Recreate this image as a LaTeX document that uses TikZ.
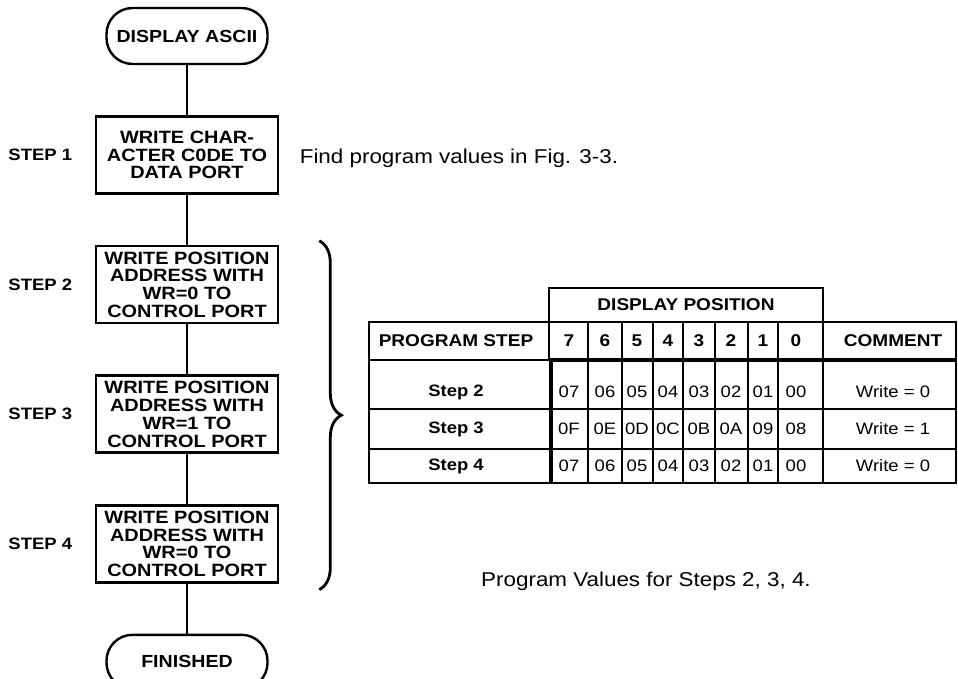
\documentclass[tikz,border=0pt]{standalone}
\usepackage{fontspec}
\setmainfont{Liberation Sans}[FakeStretch=1.12]
\usetikzlibrary{positioning, decorations.pathreplacing}

\begin{document}
\begin{tikzpicture}[
  x=1pt, y=-1pt,
  node distance=50pt,
  term/.style={draw, line width=2.4pt, rounded corners=26pt, minimum width=161pt,
               minimum height=56pt, inner sep=0pt,
               font=\bfseries\fontsize{17.5}{17.5}\selectfont},
  stepbox/.style={draw, line width=2.6pt, align=center, minimum width=182pt,
                  minimum height=77pt, inner sep=0pt,
                  font=\bfseries\fontsize{17.8}{17.8}\selectfont},
  lbl/.style={font=\bfseries\fontsize{16.5}{16.5}\selectfont},
  note/.style={font=\fontsize{20}{20}\selectfont},
  link/.style={line width=2.2pt},
  grid/.style={line width=1.8pt},
  heavy/.style={line width=3.8pt},
  hd/.style={font=\bfseries\fontsize{17}{17}\selectfont},
  rowlbl/.style={font=\bfseries\fontsize{16.5}{16.5}\selectfont},
  val/.style={font=\fontsize{16.5}{16.5}\selectfont}
]
\useasboundingbox (0,0) rectangle (958,679);

% flowchart
\node[term] (disp) at (187,36) {DISPLAY ASCII};
\node[stepbox, below=of disp] (s1) {WRITE CHAR-\\ACTER C0DE TO\\DATA PORT};
\node[stepbox, below=of s1] (s2) {WRITE POSITION\\ADDRESS WITH\\WR=0 TO\\CONTROL PORT};
\node[stepbox, below=of s2] (s3) {WRITE POSITION\\ADDRESS WITH\\WR=1 TO\\CONTROL PORT};
\node[stepbox, below=of s3] (s4) {WRITE POSITION\\ADDRESS WITH\\WR=0 TO\\CONTROL PORT};
\node[term, below=of s4, minimum height=54pt] (fin) {FINISHED};

\node[lbl, left=19pt of s1] (l1) {STEP 1};
\node[lbl, left=19pt of s2] (l2) {STEP 2};
\node[lbl, left=19pt of s3] (l3) {STEP 3};
\node[lbl, left=19pt of s4] (l4) {STEP 4};
\node[note, right=17pt of s1, yshift=-3pt] (find) {Find program values in Fig. 3-3.};

\draw[link] (disp) -- (s1);
\draw[link] (s1) -- (s2);
\draw[link] (s2) -- (s3);
\draw[link] (s3) -- (s4);
\draw[link] (s4) -- (fin);

% brace over steps 2-4
\draw[line width=2.8pt, decorate, decoration={brace, amplitude=22pt}]
  ([xshift=40pt, yshift=4pt]s2.north east) -- ([xshift=40pt, yshift=-6pt]s4.south east);

% table
\draw[grid] (549,322) |- (823,288) -- (823,322);
\draw[grid] (369,322) rectangle (956,483);
\draw[grid] (369,360) -- (549,360);
\draw[grid] (369,409) -- (956,409);
\draw[grid] (369,449) -- (956,449);
\draw[grid] (549,322) -- (549,360);
\draw[heavy] (549,360) -- (956,360);
\draw[heavy] (551,360) -- (551,483);
\foreach \x in {588,622,653,683,715,748,778,823}
  \draw[grid] (\x,322) -- (\x,483);

\node[hd] (dpos) at (686,305) {DISPLAY POSITION};
\node[hd] (pstep) at (456,341) {PROGRAM STEP};
\node[hd] (cmt) at (893,341) {COMMENT};

\def\xs{{569,605,637,668,699,731,763,796}}
\foreach \d [count=\c] in {7,6,5,4,3,2,1,0} {
  \pgfmathsetmacro\xc{\xs[\c-1]}
  \node[hd] (h\c) at (\xc,341) {\d};
}

\foreach \y/\s/\w/\vals [count=\r] in {
    392/2/0/{07,06,05,04,03,02,01,00},
    429/3/1/{0F,0E,0D,0C,0B,0A,09,08},
    466/4/0/{07,06,05,04,03,02,01,00}} {
  \node[rowlbl] (st\r) at (456,\y) {Step \s};
  \node[val] (wr\r) at (893,\y) {Write = \w};
  \foreach \v [count=\c] in \vals {
    \pgfmathsetmacro\xc{\xs[\c-1]}
    \node[val] (v\r\c) at (\xc,\y) {\v};
  }
}

\node[note] (cap) at (646,581) {Program Values for Steps 2, 3, 4.};
\end{tikzpicture}
\end{document}
